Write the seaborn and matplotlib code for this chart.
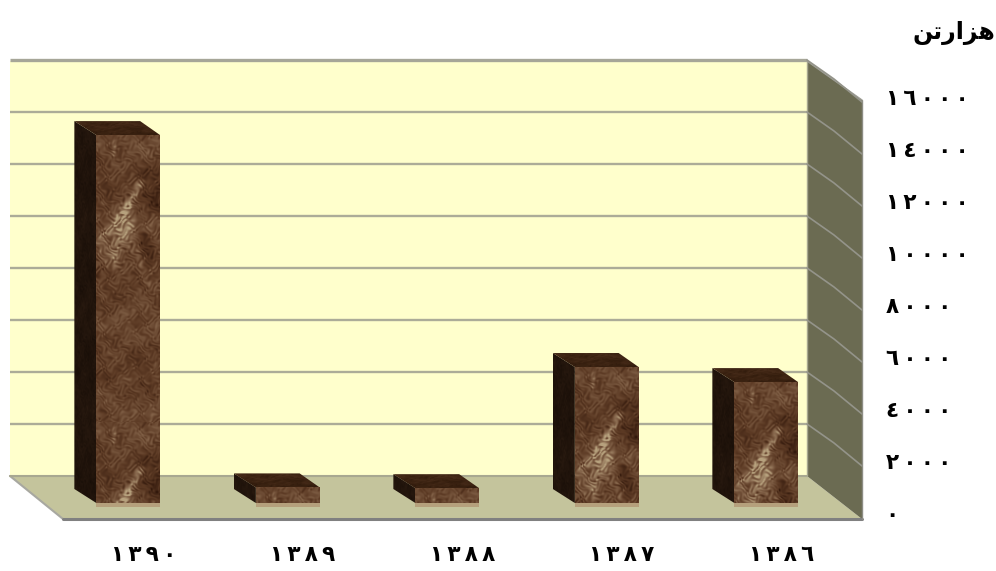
import numpy as np
import pandas as pd
import matplotlib
matplotlib.use("Agg")
import matplotlib.pyplot as plt
from matplotlib.colors import LinearSegmentedColormap
from matplotlib.patches import Polygon
from matplotlib.transforms import ScaledTranslation
import seaborn as sns

# Chart data (thousand tons)
years = ["1390", "1389", "1388", "1387", "1386"]
values = [14150, 600, 570, 5230, 4650]
year_labels = ["١٣٩٠", "١٣٨٩", "١٣٨٨", "١٣٨٧", "١٣٨٦"]
tick_values = [0, 2000, 4000, 6000, 8000, 10000, 12000, 14000, 16000]
tick_labels = ["٠", "٢٠٠٠", "٤٠٠٠", "٦٠٠٠", "٨٠٠٠", "١٠٠٠٠", "١٢٠٠٠", "١٤٠٠٠", "١٦٠٠٠"]
# matplotlib does not shape Arabic, so the unit is in presentation forms, visual order
unit_label = "\ufee6\ufe97\ufead\ufe8d\ufeb0\ufeeb"  # hezar ton

W, H = 996, 571
sns.set_theme(style="white")
plt.rcParams["font.family"] = ["DejaVu Sans"]

fig = plt.figure(figsize=(W / 100, H / 100), dpi=100, facecolor="white")

# background axes in picture pixels, for the walls and the bar sides
bg = fig.add_axes([0, 0, 1, 1], zorder=0)
bg.axis("off")

# main axes: the plane of the bars' front faces
left, right, top, bottom = 48.5, 846, 87, 503
ax = fig.add_axes([left / W, 1 - bottom / H, (right - left) / W, (bottom - top) / H], zorder=1)
ax.patch.set_alpha(0)

df = pd.DataFrame({"year": years, "value": values})
sns.barplot(data=df, x="year", y="value", order=years, width=0.40, color="#6b4a32",
            saturation=1, linewidth=0, ax=ax)
ax.set_xlabel("")
ax.set_ylabel("")
sns.despine(ax=ax, left=True, bottom=True, right=True, top=True)
ax.set_xlim(-0.5, 4.5)
ax.set_ylim(0, 16000)

# room
bg.add_patch(Polygon([(10, 61), (807, 61), (807, 476), (10, 476)], fc="#ffffcc", ec="none"))
bg.add_patch(Polygon([(10, 476), (807, 476), (862, 519), (63, 519)], fc="#c4c49c", ec="none"))
bg.add_patch(Polygon([(807, 61), (862, 100), (862, 519), (807, 476)], fc="#6b6b52", ec="none"))
bg.plot([10, 63], [476, 519], color="#a8a8a0", lw=1.5)
bg.plot([63, 862], [518.5, 518.5], color="#808080", lw=2.2)
bg.plot([862, 862], [100, 519], color="#8c8c84", lw=1)
bg.plot([807, 807], [61, 476], color="#a8a890", lw=1)
bg.plot([807, 862], [61, 100], color="#a0a098", lw=1)


def to_px(x, y):
    dx, dy = ax.transData.transform((x, y))
    return dx, H - dy


# grid lines follow the value scale, shifted back to the wall
for v in tick_values:
    _, y = to_px(0, v)
    if v == 0:
        bg.plot([10, 807], [y - 27, y - 27], color="#a8a890", lw=1.5)
        continue
    bg.plot([10, 807], [y - 27, y - 27], color="#a6a698" if v == 16000 else "#acac98",
            lw=2.4 if v == 16000 else 1.7, solid_capstyle="butt")
    bg.plot([807, 834, 862], [y - 27, y - 8, y + 15], color="#94948a", lw=1.2)

# marble tile, 63 x 287 px, repeats down a bar from its top edge (a pattern, not data)
tile_w, tile_h = 63, 287
px_u, px_w = np.meshgrid(np.arange(tile_w) + 0.5, np.arange(tile_h) + 0.5)


def streak(u0, w0, u1, w1, width):
    # soft light stroke between two points of the tile
    du, dw = u1 - u0, w1 - w0
    t = np.clip(((px_u - u0) * du + (px_w - w0) * dw) / (du * du + dw * dw), 0, 1)
    return np.exp(-((px_u - u0 - t * du) ** 2 + (px_w - w0 - t * dw) ** 2) / (2 * width * width))


# warped coordinates break up the regular weave of plain sines
warp_u = px_u + 5 * np.sin(0.13 * px_w + 0.7) + 3 * np.sin(0.37 * px_w + 0.23 * px_u)
warp_w = px_w + 5 * np.sin(0.17 * px_u + 1.9) + 3 * np.sin(0.41 * px_u - 0.19 * px_w)
fine = (np.sin(0.71 * warp_u + 0.37 * warp_w) + np.sin(-0.43 * warp_u + 0.83 * warp_w + 1.1)
        + np.sin(1.07 * warp_u - 0.59 * warp_w + 2.3) + np.sin(0.31 * warp_u + 1.03 * warp_w + 0.7)
        + np.sin(0.93 * warp_u + 0.11 * warp_w + 4.1)) / 5
broad = (np.sin(0.19 * warp_u - 0.13 * warp_w + 2.1) + np.sin(0.11 * warp_u + 0.17 * warp_w)
         + np.sin(0.07 * warp_w + 0.9)) / 3
mottle = 0.6 * fine + 0.4 * broad

veins = (0.24 * streak(18, 6, 18, 20, 1.6) + 0.10 * streak(45, 10, 52, 18, 3)
         + 0.42 * streak(44, 48, 32, 70, 2.5) + 0.36 * streak(32, 72, 6, 104, 3)
         + 0.22 * streak(30, 72, 18, 128, 5) + 0.18 * streak(30, 90, 52, 150, 5)
         + 0.12 * streak(30, 90, 10, 120, 13))
veins = veins * (0.75 + 0.7 * fine)
shade = 0.2 * streak(45, 105, 52, 125, 6) + 0.16 * streak(55, 40, 60, 70, 8)
tile = np.clip(0.38 + 0.30 * mottle + veins - shade, 0, 1)
plain = np.clip(0.38 + 0.30 * mottle, 0, 1)

marble = LinearSegmentedColormap.from_list("marble", ["#33190c", "#5c3a24", "#84644a", "#b7a27e"])
dark = LinearSegmentedColormap.from_list("dark", ["#120a05", "#1e120a", "#2c1c11", "#46301f"])
top_cm = LinearSegmentedColormap.from_list("topface", ["#1e0f07", "#38200f", "#553623", "#73553e"])


def bar_tex(source, height_px):
    # crop the repeated tile to the bar height
    rows = max(int(round(height_px)), 2)
    return np.tile(source, (rows // tile_h + 1, 1))[:rows]


depth_x, depth_y = 22, 14
for bar in ax.patches:
    x0, x1 = bar.get_x(), bar.get_x() + bar.get_width()
    h = bar.get_height()
    fl, fb = to_px(x0, 0)
    fr, ft = to_px(x1, h)

    # left side
    side = Polygon([(fl, ft), (fl - depth_x, ft - depth_y), (fl - depth_x, fb - depth_y), (fl, fb)],
                   fc="none", ec="none")
    bg.add_patch(side)
    im = bg.imshow(bar_tex(plain, fb - ft), cmap=dark, vmin=0, vmax=1, aspect="auto",
                   extent=(fl - depth_x, fl, fb, ft - depth_y), zorder=3)
    im.set_clip_path(side)

    # top
    lid = Polygon([(fl, ft), (fr, ft), (fr - depth_x + 2, ft - depth_y), (fl - depth_x, ft - depth_y)],
                  fc="none", ec="none")
    bg.add_patch(lid)
    im = bg.imshow(plain[:70], cmap=top_cm, vmin=0, vmax=1, aspect="auto",
                   extent=(fl - depth_x, fr, ft, ft - depth_y), zorder=3)
    im.set_clip_path(lid)

    # pale reflection under the front face
    bg.add_patch(Polygon([(fl, fb), (fr, fb), (fr, fb + 4), (fl, fb + 4)], fc="#b5a07c", ec="none", zorder=3))

    # front
    im = ax.imshow(bar_tex(tile, fb - ft), cmap=marble, vmin=0, vmax=1, aspect="auto",
                   extent=(x0, x1, 0, h), zorder=4)
    im.set_clip_path(bar)

bg.set_xlim(0, W)
bg.set_ylim(H, 0)
ax.set_xlim(-0.5, 4.5)
ax.set_ylim(0, 16000)

# value labels sit right of the room, year labels under the floor
ax.yaxis.tick_right()
ax.set_yticks(tick_values)
ax.set_yticklabels(["\u2009".join(t) for t in tick_labels], fontsize=15.5, fontweight="bold",
                   color="black", ha="left")
ax.set_xticks(range(len(years)))
ax.set_xticklabels(["\u2009".join(t) for t in year_labels], fontsize=15.5, fontweight="bold", color="black")
ax.tick_params(axis="y", length=0, pad=28.5)
ax.tick_params(axis="x", length=0, pad=30)
down = ScaledTranslation(0, -10 / 100, fig.dpi_scale_trans)
across = ScaledTranslation(15 / 100, 0, fig.dpi_scale_trans)
for lab in ax.get_yticklabels():
    lab.set_transform(lab.get_transform() + down)
for lab in ax.get_xticklabels():
    lab.set_transform(lab.get_transform() + across)

fig.text(954 / W, 1 - 33 / H, unit_label, fontsize=17, fontweight="bold", color="black",
         ha="center", va="center")

fig.savefig("out.png", dpi=100)
